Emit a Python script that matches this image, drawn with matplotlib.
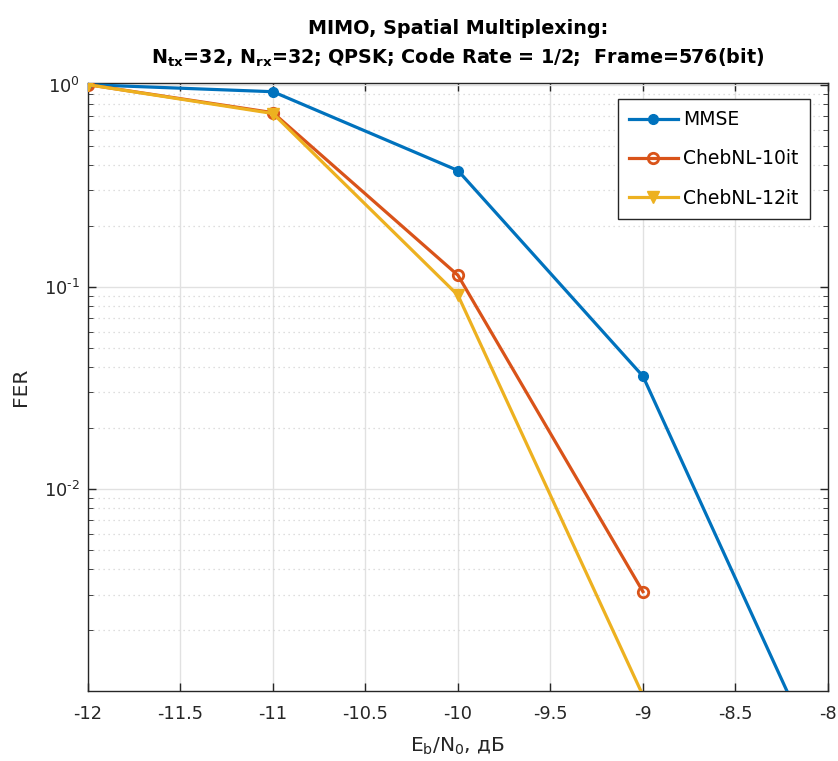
import matplotlib
matplotlib.use("Agg")
import matplotlib.pyplot as plt
from matplotlib.ticker import LogLocator, NullFormatter, FixedLocator

# ---- data -------------------------------------------------------------------
ebn0 = [-12, -11, -10, -9, -8]
fer_mmse = [1.0, 0.923, 0.376, 0.0361, 3.6e-4]
ebn0_cheb10 = [-12, -11, -10, -9]
fer_cheb10 = [1.0, 0.727, 0.114, 0.0031]
ebn0_cheb12 = [-12, -11, -10, -9]
fer_cheb12 = [1.0, 0.72, 0.0908, 9.5e-4]

x_ticks = [-12, -11.5, -11, -10.5, -10, -9.5, -9, -8.5, -8]
x_ticklabels = ["-12", "-11.5", "-11", "-10.5", "-10", "-9.5", "-9", "-8.5", "-8"]
y_ticks = [1e-2, 1e-1, 1e0]

BLUE = "#0072BD"
ORANGE = "#D95319"
YELLOW = "#EDB120"
INK = "#262626"
Y_MIN, Y_MAX = 1e-3, 1.02


def visible(vals):
    # MATLAB drops markers whose point lies outside the axes
    return [i for i, v in enumerate(vals) if Y_MIN <= v <= Y_MAX]


fig = plt.figure(figsize=(8.38, 7.61), dpi=100)
ax = fig.add_axes([0.105, 0.092, 0.883, 0.799])

ax.plot(ebn0, fer_mmse, color=BLUE, lw=2.3, marker="o", ms=7,
        mfc=BLUE, mec=BLUE, markevery=visible(fer_mmse), label="MMSE", zorder=3)
ax.plot(ebn0_cheb10, fer_cheb10, color=ORANGE, lw=2.3, marker="o", ms=7.5,
        mfc="none", mec=ORANGE, mew=2.0, markevery=visible(fer_cheb10),
        label="ChebNL-10it", zorder=4)
ax.plot(ebn0_cheb12, fer_cheb12, color=YELLOW, lw=2.3, marker="v", ms=9,
        mfc=YELLOW, mec=YELLOW, markevery=visible(fer_cheb12),
        label="ChebNL-12it", zorder=5)

ax.set_yscale("log")
ax.set_xlim(-12, -8)
ax.set_ylim(Y_MIN, Y_MAX)
ax.xaxis.set_major_locator(FixedLocator(x_ticks))
ax.set_xticklabels(x_ticklabels)
ax.yaxis.set_major_locator(FixedLocator(y_ticks))
ax.set_yticklabels([r"$\mathregular{10^{\text{-}2}}$", r"$\mathregular{10^{\text{-}1}}$",
                    r"$\mathregular{10^{0}}$"])
ax.yaxis.set_minor_locator(LogLocator(base=10, subs=range(2, 10), numticks=20))
ax.yaxis.set_minor_formatter(NullFormatter())

ax.grid(which="major", axis="both", color="#e1e1e1", lw=1.0, ls="-")
ax.grid(which="minor", axis="y", color="#d4d4d4", lw=0.9, ls=(0, (1, 3)))
ax.set_axisbelow(True)

ax.tick_params(axis="both", which="major", labelsize=12.8, colors=INK,
               direction="in", length=6, width=1.0, top=True, right=True)
ax.tick_params(axis="x", which="major", pad=10)
ax.tick_params(axis="y", which="major", pad=6)
ax.tick_params(axis="y", which="minor", direction="in", length=3.3,
               right=True, colors=INK)
for sp in ax.spines.values():
    sp.set_color(INK)
    sp.set_linewidth(1.0)

ax.set_xlabel(r"E$_\mathregular{b}$/N$_\mathregular{0}$, дБ", fontsize=14.5,
              color=INK, labelpad=9)
ax.set_ylabel("FER", fontsize=14.5, color=INK, labelpad=10)
ax.set_title("MIMO, Spatial Multiplexing:\n"
             r"N$_{\mathbf{tx}}$=32, N$_{\mathbf{rx}}$=32; QPSK; Code Rate = 1/2;  Frame=576(bit)",
             fontsize=13.8, fontweight="bold", pad=14, linespacing=1.5)

leg = ax.legend(loc="upper right", bbox_to_anchor=(0.9757, 0.9737), borderaxespad=0,
                fontsize=13.5, frameon=True, fancybox=False, edgecolor=INK,
                framealpha=1, handlelength=2.6, handletextpad=0.3,
                borderpad=0.6, labelspacing=1.08)
leg.get_frame().set_linewidth(1.0)

fig.savefig("out.png", dpi=100)
